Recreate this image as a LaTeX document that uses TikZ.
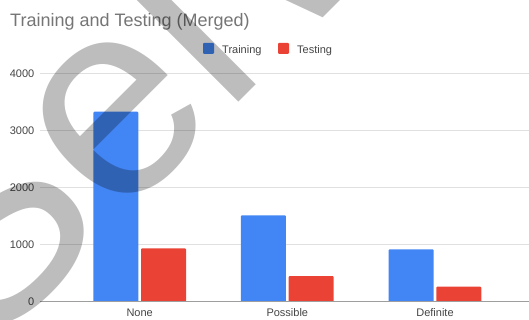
\documentclass[tikz,border=0pt]{standalone}
\usepackage{fontspec}
\setmainfont{Liberation Sans}
\definecolor{trainblue}{HTML}{4285F4}
\definecolor{testred}{HTML}{EA4335}
\definecolor{titlegray}{HTML}{757575}
\definecolor{labelgray}{HTML}{444444}
\definecolor{gridgray}{HTML}{E0E0E0}
\definecolor{axisgray}{HTML}{9E9E9E}

\begin{document}
\begin{tikzpicture}[x=1pt,y=1pt,
    ticklabel/.style={font=\fontsize{11}{11}\selectfont, text=labelgray, inner sep=0pt},
    catlabel/.style={font=\fontsize{11}{11}\selectfont, text=labelgray, inner sep=0pt, anchor=base},
    keybox/.style={rounded corners=1pt}]
                \useasboundingbox (0,0) rectangle (529,320);
                \clip (0,0) rectangle (529,320);
                \node[font=\fontsize{18}{18}\selectfont, text=titlegray, inner sep=0pt, anchor=base west] (title) at (10,293.5) {Training and Testing (Merged)};
                % legend
                \fill[trainblue, keybox] (203,266) rectangle (214,277);
                \node[ticklabel, anchor=base west] (key-train) at (222,266.7) {Training};
                \fill[testred, keybox] (278,266) rectangle (289,277);
                \node[ticklabel, anchor=base west] (key-test) at (297,266.7) {Testing};
                % grid
                \foreach \v in {1,...,4} {
                    \draw[gridgray, line width=0.9pt] (40,{18.3+57.1*\v}) -- (529,{18.3+57.1*\v});
                    \node[ticklabel, anchor=east] (tick-\v) at (34.5,{18.3+57.1*\v}) {\v000};
                }
                \node[ticklabel, anchor=east] (tick-0) at (34.5,18.3) {0};
                % bars
                \foreach \c/\name/\tr/\te in {139.7/None/3327/935, 287.3/Possible/1513/450, 435/Definite/918/263} {
                    \fill[trainblue, rounded corners=1pt] (\c-46.4,18.3) rectangle (\c-1.4,{18.3+0.0571*\tr});
                    \fill[testred, rounded corners=1pt] (\c+1.3,18.3) rectangle (\c+46.3,{18.3+0.0571*\te});
                    \node[catlabel] (cat-\name) at (\c,3) {\name};
                }
                \draw[axisgray, line width=1.6pt] (40,18.3) -- (529,18.3);
                % watermark
                \node[rotate=45, anchor=base west, inner sep=0pt, text=black, text opacity=0.26,
                    font=\fontsize{280}{280}\selectfont] (mark) at (-17,-38) {Sel\kern22pt v};
            \end{tikzpicture}
\end{document}
